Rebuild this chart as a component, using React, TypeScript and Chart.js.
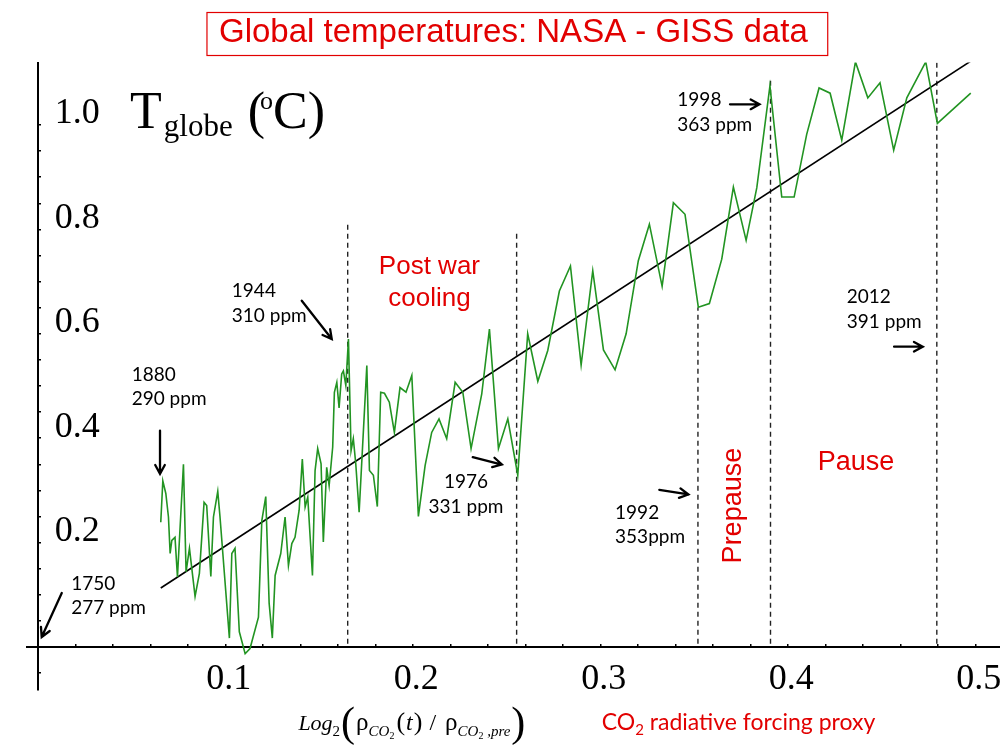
import { useEffect, useRef } from "react";
import Chart from "chart.js/auto";

// green series: CO2 forcing proxy (x) and global temperature (y)
const forcing = [
  0.0656, 0.0667, 0.0683, 0.0697, 0.0706, 0.0715, 0.0732, 0.0745, 0.0777, 0.0791,
  0.0809, 0.0839, 0.0862, 0.0887, 0.0901, 0.0923, 0.0937, 0.0960, 0.0972, 0.1022,
  0.1035, 0.1052, 0.1075, 0.1106, 0.1132, 0.1177, 0.1195, 0.1216, 0.1234, 0.1251,
  0.1266, 0.1296, 0.1319, 0.1337, 0.1355, 0.1372, 0.1394, 0.1411, 0.1426, 0.1440,
  0.1465, 0.1479, 0.1493, 0.1511, 0.1523, 0.1541, 0.1554, 0.1573, 0.1582, 0.1595,
  0.1607, 0.1621, 0.1630, 0.1643, 0.1657, 0.1671, 0.1683, 0.1696, 0.1714, 0.1755,
  0.1769, 0.1790, 0.1811, 0.1829, 0.1849, 0.1875, 0.1902, 0.1932, 0.1964, 0.1995,
  0.2030, 0.2066, 0.2101, 0.2140, 0.2181, 0.2226, 0.2267, 0.2311, 0.2368, 0.2409,
  0.2457, 0.2507, 0.2560, 0.2613, 0.2667, 0.2720, 0.2782, 0.2841, 0.2898, 0.2960,
  0.3017, 0.3079, 0.3138, 0.3203, 0.3262, 0.3330, 0.3390, 0.3452, 0.3523, 0.3582,
  0.3648, 0.3710, 0.3778, 0.3835, 0.3905, 0.3968, 0.4034, 0.4101, 0.4167, 0.4226,
  0.4288, 0.4361, 0.4427, 0.4492, 0.4565, 0.4635, 0.4736, 0.4798, 0.4976,
];
const temperature = [
  0.239, 0.318, 0.294, 0.249, 0.179, 0.204, 0.210, 0.134, 0.350, 0.144,
  0.189, 0.097, 0.141, 0.277, 0.271, 0.135, 0.249, 0.298, 0.249, 0.017,
  0.179, 0.189, 0.029, -0.013, -0.003, 0.057, 0.242, 0.288, 0.084, 0.017,
  0.137, 0.179, 0.249, 0.156, 0.198, 0.210, 0.262, 0.360, 0.268, 0.287,
  0.137, 0.338, 0.380, 0.351, 0.201, 0.344, 0.309, 0.383, 0.488, 0.507,
  0.458, 0.523, 0.529, 0.501, 0.590, 0.376, 0.399, 0.351, 0.258, 0.539,
  0.338, 0.329, 0.269, 0.488, 0.486, 0.469, 0.411, 0.497, 0.488, 0.520,
  0.250, 0.348, 0.411, 0.437, 0.399, 0.507, 0.488, 0.380, 0.485, 0.609,
  0.380, 0.437, 0.329, 0.600, 0.509, 0.568, 0.682, 0.730, 0.540, 0.721,
  0.569, 0.531, 0.600, 0.740, 0.810, 0.691, 0.851, 0.829, 0.651, 0.658,
  0.743, 0.881, 0.779, 0.880, 1.075, 0.862, 0.862, 0.982, 1.071, 1.061,
  0.971, 1.121, 1.052, 1.081, 0.952, 1.052, 1.121, 1.003, 1.061,
];

// black fit line (end points)
const trendForcing = [0.0656, 0.4976];
const trendTemp = [0.1129, 1.1224];

// dashed markers: 1944, 1976, 1992, 1998, 2012
const markerForcing = [0.1653, 0.2554, 0.3521, 0.3908, 0.4795];
const markerTop = [0.8163, 0.7972, 0.6505, 1.0905, 1.1244];
const markerBase = 0.006;

const xTickLabels = ["0.1", "0.2", "0.3", "0.4", "0.5"];
const yTickLabels = ["0.2", "0.4", "0.6", "0.8", "1.0"];

const X_MIN = -0.0059;
const X_MAX = 0.5132;
const Y_MIN = -0.0825;
const Y_MAX = 1.1196;

const RED = "#e20000";
const SERIF = "'Liberation Serif', 'Times New Roman', serif";
const SANS = "'Liberation Sans', Arial, sans-serif";
const NOTE = "Lato, 'Open Sans', sans-serif";

const yearNotes = [
  { lines: ["1880", "290 ppm"], x: 0.0501, y: 0.5102, align: "left" },
  { lines: ["1944", "310 ppm"], x: 0.1035, y: 0.6696, align: "left" },
  { lines: ["1976", "331 ppm"], x: 0.2284, y: 0.3042, align: "center" },
  { lines: ["1992", "353ppm"], x: 0.3079, y: 0.2456, align: "left" },
  { lines: ["1998", "363 ppm"], x: 0.3411, y: 1.0364, align: "left" },
  { lines: ["2012", "391 ppm"], x: 0.4315, y: 0.6589, align: "left" },
  { lines: ["1750", "277 ppm"], x: 0.0178, y: 0.1098, align: "left" },
];

const arrows = [
  [0.0652, 0.4146, 0.0652, 0.3317],
  [0.1408, 0.6633, 0.1568, 0.59],
  [0.232, 0.3635, 0.2475, 0.3495],
  [0.3315, 0.3011, 0.347, 0.2921],
  [0.3692, 1.0396, 0.3849, 1.0396],
  [0.4567, 0.5753, 0.472, 0.5753],
  [0.0128, 0.1033, 0.0021, 0.0191],
];

type Seg = { t: string; font: string; dy?: number; gap?: number };

function drawRich(ctx: CanvasRenderingContext2D, segs: Seg[], x: number, y: number) {
  let cx = x;
  for (const s of segs) {
    cx += s.gap ?? 0;
    ctx.font = s.font;
    ctx.fillText(s.t, cx, y + (s.dy ?? 0));
    cx += ctx.measureText(s.t).width;
  }
}

function drawArrow(ctx: CanvasRenderingContext2D, x1: number, y1: number, x2: number, y2: number) {
  const a = Math.atan2(y2 - y1, x2 - x1);
  const head = 10;
  ctx.beginPath();
  ctx.moveTo(x1, y1);
  ctx.lineTo(x2, y2);
  ctx.moveTo(x2 - head * Math.cos(a - 0.5), y2 - head * Math.sin(a - 0.5));
  ctx.lineTo(x2, y2);
  ctx.lineTo(x2 - head * Math.cos(a + 0.5), y2 - head * Math.sin(a + 0.5));
  ctx.stroke();
}

const slidePlugin = {
  id: "slideAnnotations",
  afterDraw(chart: any) {
    const ctx: CanvasRenderingContext2D = chart.ctx;
    const px = (v: number) => chart.scales.x.getPixelForValue(v);
    const py = (v: number) => chart.scales.y.getPixelForValue(v);
    ctx.save();

    // red frame round the title
    const tb = chart.titleBlock;
    if (tb) {
      ctx.font = `33px ${SANS}`;
      const w = ctx.measureText(chart.options.plugins.title.text).width;
      const cx = (tb.left + tb.right) / 2;
      ctx.strokeStyle = RED;
      ctx.lineWidth = 1.2;
      ctx.strokeRect(cx - w / 2 - 12, 12.5, w + 32, 43);
    }

    // year / ppm notes
    ctx.fillStyle = "#000";
    ctx.textBaseline = "alphabetic";
    ctx.font = `19px ${NOTE}`;
    for (const n of yearNotes) {
      ctx.textAlign = n.align as CanvasTextAlign;
      n.lines.forEach((line, i) => ctx.fillText(line, px(n.x), py(n.y) + i * 24.5));
    }
    ctx.textAlign = "left";

    ctx.strokeStyle = "#000";
    ctx.lineWidth = 2.3;
    ctx.lineCap = "round";
    for (const [a, b, c, d] of arrows) drawArrow(ctx, px(a), py(b), px(c), py(d));

    // red period labels
    ctx.fillStyle = RED;
    ctx.font = `26px ${SANS}`;
    ctx.textAlign = "center";
    ctx.fillText("Post war", px(0.2089), py(0.7143));
    ctx.fillText("cooling", px(0.2089), py(0.6537));
    ctx.font = `27px ${SANS}`;
    ctx.fillText("Pause", px(0.4364), py(0.3381));
    ctx.textAlign = "left";
    ctx.save();
    ctx.translate(px(0.3753), py(0.1601));
    ctx.rotate(-Math.PI / 2);
    ctx.fillText("Prepause", 0, 0);
    ctx.restore();

    // axis name under the x axis
    ctx.fillStyle = "#000";
    drawRich(
      ctx,
      [
        { t: "Log", font: `italic 22px ${SERIF}` },
        { t: "2", font: `15px ${SERIF}`, dy: 6 },
        { t: "(", font: `42px ${SERIF}`, dy: 6, gap: 1 },
        { t: "\u03c1", font: `25px ${SERIF}`, gap: 1 },
        { t: "CO", font: `italic 15px ${SERIF}`, dy: 6 },
        { t: "2", font: `10px ${SERIF}`, dy: 9 },
        { t: "(", font: `26px ${SERIF}`, gap: 2 },
        { t: "t", font: `italic 24px ${SERIF}`, gap: 1 },
        { t: ")", font: `26px ${SERIF}`, gap: 1 },
        { t: "/", font: `24px ${SERIF}`, gap: 7 },
        { t: "\u03c1", font: `25px ${SERIF}`, gap: 9 },
        { t: "CO", font: `italic 15px ${SERIF}`, dy: 6 },
        { t: "2", font: `10px ${SERIF}`, dy: 9 },
        { t: " ,pre", font: `italic 15px ${SERIF}`, dy: 6 },
        { t: ")", font: `42px ${SERIF}`, dy: 6, gap: 1 },
      ],
      px(0.139),
      py(-0.1594)
    );

    ctx.fillStyle = RED;
    drawRich(
      ctx,
      [
        { t: "CO", font: `23px ${NOTE}` },
        { t: "2", font: `15px ${NOTE}`, dy: 5 },
        { t: " radiative forcing proxy", font: `23px ${NOTE}` },
      ],
      px(0.3008),
      py(-0.1594)
    );

    // y axis name
    ctx.fillStyle = "#000";
    drawRich(
      ctx,
      [
        { t: "T", font: `52px ${SERIF}` },
        { t: "globe", font: `31px ${SERIF}`, dy: 8.3, gap: 2 },
        { t: "(", font: `52px ${SERIF}`, gap: 15 },
        { t: "o", font: `26px ${SERIF}`, dy: -18.5, gap: -5 },
        { t: "C", font: `52px ${SERIF}`, gap: 0 },
        { t: ")", font: `52px ${SERIF}` },
      ],
      px(0.0492),
      py(0.9948)
    );

    ctx.restore();
  },
};

function pickLabel(value: number, wanted: string[]) {
  const s = Number(value).toFixed(1);
  return Math.abs(value - Number(s)) < 1e-6 && wanted.includes(s) ? s : "";
}

// the axes cross inside the plot, so their labels must not shrink the plot area
function noOverflow(scale: any) {
  scale.paddingLeft = 0;
  scale.paddingRight = 0;
  scale.paddingTop = 0;
  scale.paddingBottom = 0;
}

export default function App() {
  const canvasRef = useRef<HTMLCanvasElement>(null);

  useEffect(() => {
    if (!canvasRef.current) return;

    const markerSets = markerForcing.map((f, i) => ({
      data: [
        { x: f, y: markerBase },
        { x: f, y: markerTop[i] },
      ],
      borderColor: "#222",
      borderWidth: 1.4,
      borderDash: [5, 4],
      pointRadius: 0,
      showLine: true,
    }));

    const chart = new Chart(canvasRef.current, {
      type: "scatter",
      data: {
        datasets: [
          {
            label: "T globe",
            data: forcing.map((f, i) => ({ x: f, y: temperature[i] })),
            borderColor: "#229422",
            borderWidth: 1.6,
            pointRadius: 0,
            showLine: true,
            tension: 0,
          },
          {
            label: "fit",
            data: trendForcing.map((f, i) => ({ x: f, y: trendTemp[i] })),
            borderColor: "#000",
            borderWidth: 1.6,
            pointRadius: 0,
            showLine: true,
          },
          ...markerSets,
        ],
      },
      options: {
        responsive: false,
        animation: false,
        events: [],
        layout: { padding: { left: 26.7, right: 0, top: 0, bottom: 60 } },
        plugins: {
          legend: { display: false },
          tooltip: { enabled: false },
          title: {
            display: true,
            text: "Global temperatures: NASA - GISS data",
            color: RED,
            font: { family: SANS, size: 33, weight: "normal" },
            padding: { top: 13, bottom: 10 },
          },
        },
        scales: {
          x: {
            type: "linear",
            min: X_MIN,
            max: X_MAX,
            position: { y: 0 },
            afterFit: noOverflow,
            border: { display: true, color: "#000", width: 2 },
            grid: { drawOnChartArea: false, tickLength: -4, color: "#000", lineWidth: 1.5 },
            ticks: {
              stepSize: 0.02,
              includeBounds: false,
              autoSkip: false,
              maxRotation: 0,
              minRotation: 0,
              padding: 15,
              labelOffset: 3.5,
              color: "#000",
              font: { family: SERIF, size: 36 },
              callback: (v: any) => pickLabel(Number(v), xTickLabels),
            },
          },
          y: {
            type: "linear",
            min: Y_MIN,
            max: Y_MAX,
            position: { x: 0 },
            afterFit: noOverflow,
            border: { display: true, color: "#000", width: 2 },
            grid: {
              drawOnChartArea: false,
              tickLength: -4,
              lineWidth: 1.5,
              color: (c: any) => (c.tick && c.tick.value > 1.001 ? "rgba(0,0,0,0)" : "#000"),
            },
            ticks: { stepSize: 0.05, includeBounds: false, autoSkip: false, display: false },
          },
          // labels only: mirrored inside the plot, takes no width of its own
          yl: {
            type: "linear",
            axis: "y",
            min: Y_MIN,
            max: Y_MAX,
            position: "left",
            afterFit: (scale: any) => {
              scale.width = 0;
              noOverflow(scale);
            },
            border: { display: false },
            grid: { display: false },
            ticks: {
              stepSize: 0.05,
              includeBounds: false,
              autoSkip: false,
              mirror: true,
              padding: 28,
              labelOffset: -11,
              color: "#000",
              font: { family: SERIF, size: 36 },
              callback: (v: any) => pickLabel(Number(v), yTickLabels),
            },
          },
        },
      } as any,
      plugins: [slidePlugin],
    });

    return () => {
      chart.destroy();
    };
  }, []);

  return (
    <div style={{ position: "absolute", left: 0, top: 0, width: 1000, height: 750, background: "#fff" }}>
      <canvas ref={canvasRef} width={1000} height={750}></canvas>
    </div>
  );
}
